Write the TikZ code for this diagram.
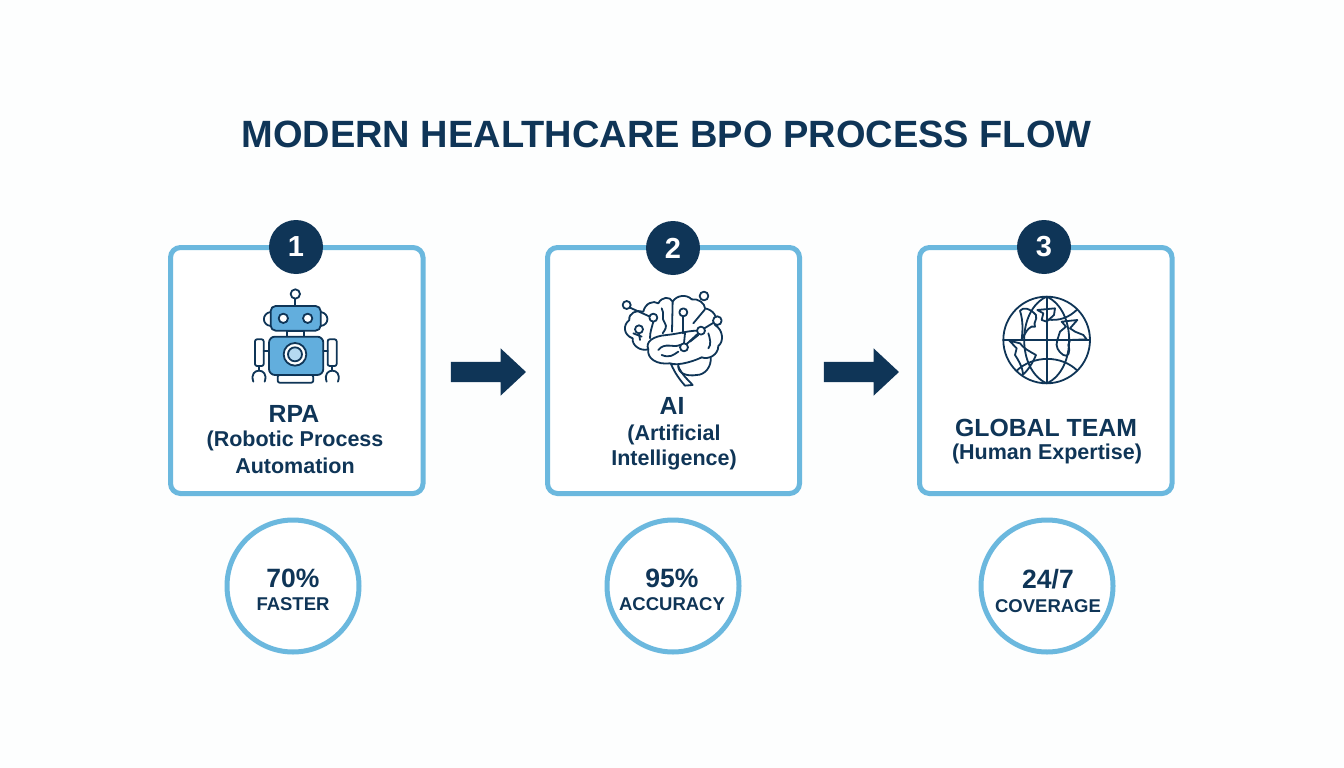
\documentclass[tikz,border=0pt]{standalone}
\usepackage{fontspec}
\setmainfont{Liberation Sans}
\usetikzlibrary{shapes.arrows}
\definecolor{navy}{HTML}{0F3557}
\definecolor{sky}{HTML}{6BB8DE}
\definecolor{midblue}{HTML}{62AEDD}
\definecolor{pale}{HTML}{B5D9F1}
\definecolor{paper}{HTML}{FDFEFE}
\tikzset{
  card/.style={draw=sky,line width=5pt,fill=white,rounded corners=10pt},
  badge/.style={circle,fill=navy,text=white,minimum size=54pt,inner sep=0pt,font=\bfseries\fontsize{29}{29}\selectfont},
  kpi/.style={circle,draw=sky,line width=5pt,fill=white,minimum size=132pt,inner sep=0pt},
  flow/.style={single arrow,fill=navy,minimum height=75pt,minimum width=47pt,single arrow head extend=13.5pt,single arrow tip angle=86,single arrow head indent=0pt,inner xsep=0pt,inner ysep=10pt,anchor=center},
  headtext/.style={text=navy,font=\bfseries\fontsize{24.8}{24.8}\selectfont,inner sep=0pt},
  subtext/.style={text=navy,font=\fontsize{21.5}{21.5}\selectfont\bfseries,inner sep=0pt},
  kpibig/.style={text=navy,font=\bfseries\fontsize{26.5}{26.5}\selectfont,inner sep=0pt},
  kpismall/.style={text=navy,font=\bfseries\fontsize{18.5}{18.5}\selectfont,inner sep=0pt},
  thin icon/.style={draw=navy,line width=1.8pt,line join=round,line cap=round},
}
\begin{document}
\begin{tikzpicture}[x=1pt,y=-1pt]
\useasboundingbox (0,0) rectangle (1344,768);
\fill[paper] (0,0) rectangle (1344,768);
\node[text=navy,font=\bfseries\fontsize{38}{38}\selectfont,inner sep=0pt] (title) at (666.5,134) {MODERN HEALTHCARE BPO PROCESS FLOW};

\draw[card] (170.5,247.5) rectangle (423,493.5);
\draw[card] (547.5,247.5) rectangle (799.5,493.5);
\draw[card] (919.5,247.5) rectangle (1172,493.5);
\node[badge] (b1) at (296,247) {1};
\node[badge] (b2) at (673,248) {2};
\node[badge] (b3) at (1044,247) {3};

\node[flow] (a1) at (483,372) {};
\node[flow] (a2) at (856,372) {};

% robot
\begin{scope}[shift={(160,220)},x=.3333pt,y=-.3333pt]
\draw[thin icon] (406,222) circle (14);
\draw[thin icon] (406,236) -- (406,258);
\draw[thin icon] (332,276) .. controls (305,280) and (305,315) .. (332,318);
\draw[thin icon] (482,276) .. controls (509,280) and (509,315) .. (482,318);
\draw[thin icon,fill=midblue,rounded corners=5pt] (332,258) rectangle (482,332);
\draw[thin icon,fill=white] (370,295) circle (14);
\draw[thin icon,fill=white] (443,295) circle (14);
\draw[thin icon,fill=white] (382,332) rectangle (432,350);
\draw[thin icon,fill=white,rounded corners=2pt] (353,465) rectangle (460,488);
\draw[thin icon,fill=midblue,rounded corners=6pt] (327,350) rectangle (490,465);
\draw[thin icon,fill=white] (405,403) circle (34);
\draw[thin icon,fill=pale] (405,403) circle (21);
\draw[thin icon,fill=white,rounded corners=2pt] (285,358) rectangle (311,438);
\draw[thin icon,fill=white,rounded corners=2pt] (503,358) rectangle (530,438);
\draw[thin icon] (311,392) -- (327,392);
\draw[thin icon] (490,392) -- (503,392);
\draw[thin icon] (297,438) -- (297,452);
\draw[thin icon] (517,438) -- (517,452);
\draw[thin icon] (280,485) .. controls (272,462) and (285,452) .. (297,452) .. controls (309,452) and (322,462) .. (314,485);
\draw[thin icon] (500,485) .. controls (492,462) and (505,452) .. (517,452) .. controls (529,452) and (542,462) .. (534,485);
\end{scope}

% brain
\begin{scope}[shift={(590,270)},x=.3333pt,y=-.3333pt]
\draw[thin icon] (175,238) .. controls (150,245) and (125,225) .. (128,205) .. controls (100,195) and (98,165) .. (118,150) .. controls (115,130) and (140,118) .. (160,125) .. controls (165,100) and (190,90) .. (205,100) .. controls (215,80) and (240,78) .. (248,95) .. controls (260,75) and (290,72) .. (305,88) .. controls (325,85) and (345,100) .. (345,115) .. controls (370,120) and (385,140) .. (375,165) .. controls (400,180) and (402,215) .. (385,228) .. controls (385,255) and (355,270) .. (335,262);
\draw[thin icon] (175,238) .. controls (165,215) and (190,198) .. (230,195) .. controls (265,192) and (300,180) .. (333,182);
\draw[thin icon] (175,238) .. controls (170,265) and (200,285) .. (240,280) .. controls (265,290) and (320,270) .. (335,262);
\draw[thin icon] (265,285) .. controls (262,310) and (290,320) .. (320,315) .. controls (345,315) and (365,290) .. (362,262);
\draw[thin icon] (243,282) .. controls (255,310) and (270,330) .. (285,347) -- (308,345) .. controls (295,330) and (280,320) .. (265,290);
\draw[thin icon] (248,95) -- (246,185);
\draw[thin icon] (215,115) .. controls (225,130) and (212,145) .. (225,160) .. controls (232,170) and (225,180) .. (218,190);
\draw[thin icon] (205,240) .. controls (225,215) and (250,235) .. (270,225);
\draw[thin icon] (215,255) .. controls (240,265) and (250,255) .. (265,245);
\draw[thin icon] (310,160) -- (345,118);
\draw[thin icon] (355,235) .. controls (365,225) and (360,205) .. (355,190);
\draw[thin icon] (300,215) -- (325,195);
\draw[thin icon] (120,113) -- (180,140);
\draw[thin icon] (190,155) .. controls (185,175) and (180,185) .. (180,205);
\draw[thin icon] (147,190) -- (150,210);
\draw[thin icon] (130,190) -- (155,200);
\draw[thin icon] (280,139) -- (280,190);
\draw[thin icon] (282,220) -- (285,190);
\draw[thin icon] (290,222) -- (325,190);
\draw[thin icon] (343,175) -- (371,158);
\draw[thin icon,fill=white] (110,105) circle (12);
\draw[thin icon,fill=white] (190,143) circle (12);
\draw[thin icon,fill=white] (147,178) circle (12);
\draw[thin icon,fill=white] (280,127) circle (12);
\draw[thin icon,fill=white] (342,78) circle (13);
\draw[thin icon,fill=white] (382,152) circle (13);
\draw[thin icon,fill=white] (333,182) circle (12);
\draw[thin icon,fill=white] (282,232) circle (12);
\end{scope}

% globe
\begin{scope}[shift={(980,280)},x=.3333pt,y=-.3333pt]
\draw[thin icon] (200,180) circle (130);
\draw[thin icon] (70,180) -- (330,180);
\draw[thin icon] (200,50) -- (200,310);
\draw[thin icon] (200,50) .. controls (110,90) and (110,270) .. (200,310);
\draw[thin icon] (200,50) .. controls (290,90) and (290,270) .. (200,310);
\draw[thin icon] (200,118) .. controls (240,125) and (270,110) .. (292,88);
\draw[thin icon] (110,272) .. controls (160,225) and (245,225) .. (292,272);
\draw[thin icon] (120,92) .. controls (130,80) and (150,85) .. (168,105) .. controls (172,125) and (160,120) .. (165,140) .. controls (150,135) and (140,150) .. (125,180) .. controls (128,150) and (130,125) .. (120,92);
\draw[thin icon] (172,90) -- (225,85) -- (222,105) -- (200,125) -- (185,120) -- (190,100) -- cycle;
\draw[thin icon] (292,120) -- (245,125) -- (258,140) -- (240,155) -- (232,180) .. controls (225,200) and (235,215) .. (250,225) .. controls (265,235) and (272,215) .. (265,195) -- (270,180) -- (320,178) -- (310,165) -- (285,155) -- (270,145) -- cycle;
\draw[thin icon] (88,182) -- (110,205) -- (105,225) .. controls (125,255) and (130,275) .. (128,285) .. controls (145,270) and (160,245) .. (168,225) .. controls (150,215) and (130,205) .. (120,190) -- (88,182);
\end{scope}

\node[headtext] (t1) at (294,414) {RPA};
\node[subtext] (t1a) at (295,441) {(Robotic Process};
\node[subtext] (t1b) at (295,466) {Automation};
\node[headtext] (t2) at (672,406) {AI};
\node[subtext] (t2a) at (674,435) {(Artificial};
\node[subtext] (t2b) at (674,460) {Intelligence)};
\node[headtext] (t3) at (1046,428) {GLOBAL TEAM};
\node[subtext] (t3a) at (1047,454) {(Human Expertise)};

\node[kpi] (k1) at (293,586) {};
\node[kpi] (k2) at (673,586) {};
\node[kpi] (k3) at (1047,586) {};
\node[kpibig] (k1a) at (293,578) {70\%};
\node[kpismall] (k1b) at (293,604) {FASTER};
\node[kpibig] (k2a) at (672,578) {95\%};
\node[kpismall] (k2b) at (672,604) {ACCURACY};
\node[kpibig] (k3a) at (1048,579) {24/7};
\node[kpismall] (k3b) at (1048,606) {COVERAGE};
\end{tikzpicture}
\end{document}
